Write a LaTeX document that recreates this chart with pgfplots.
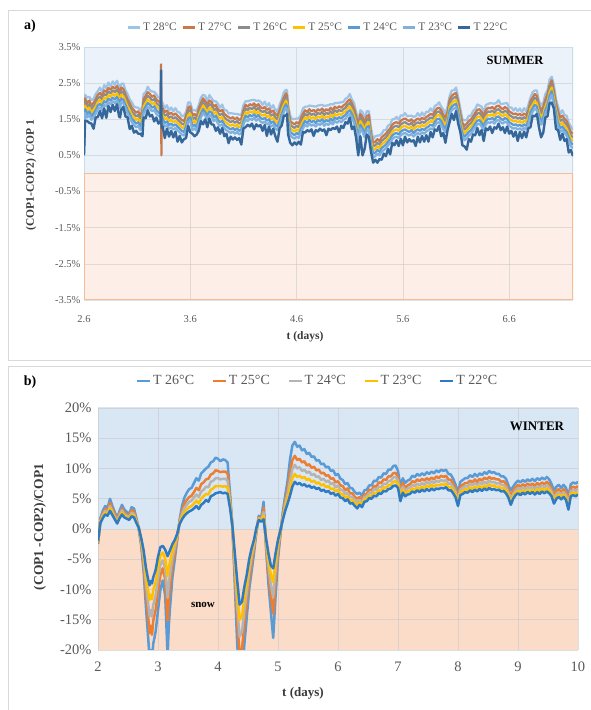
\documentclass[border=0pt]{standalone}
\usepackage{fontspec}
\setmainfont{Liberation Serif}
\usepackage{pgfplots}
\pgfplotsset{compat=1.18}
\usepackage{pgfplotstable}
\definecolor{c28}{HTML}{9DC3E6}
\definecolor{c27}{HTML}{C9784A}
\definecolor{c26}{HTML}{8C8C8C}
\definecolor{c25}{HTML}{FFC000}
\definecolor{c24}{HTML}{5B9BD5}
\definecolor{c23}{HTML}{7FB0DE}
\definecolor{c22}{HTML}{35679A}
\definecolor{w26}{HTML}{5B9BD5}
\definecolor{w25}{HTML}{ED7D31}
\definecolor{w24}{HTML}{B4B4B4}
\definecolor{w23}{HTML}{FFC000}
\definecolor{w22}{HTML}{2E7BC4}
\definecolor{sblue}{HTML}{EBF2FA}
\definecolor{sblueb}{HTML}{C9DCEF}
\definecolor{sor}{HTML}{FDEFE7}
\definecolor{sorb}{HTML}{F5BC98}
\definecolor{wblue}{HTML}{D9E7F5}
\definecolor{wor}{HTML}{FADCC8}
\definecolor{gridc}{HTML}{C8C8C8}
\definecolor{tickgray}{HTML}{595959}
\definecolor{axtitle}{HTML}{3A3A3A}
\definecolor{framec}{HTML}{D9D9D9}
\pgfdeclareverticalshading{sumbg}{100bp}{color(0bp)=(sor); color(50bp)=(sor); color(50bp)=(sblue); color(100bp)=(sblue)}
\pgfdeclareverticalshading{winbg}{100bp}{color(0bp)=(wor); color(50bp)=(wor); color(50bp)=(wblue); color(100bp)=(wblue)}

\pgfplotstableread{
x t28 t27 t26 t25 t24 t23 t22
2.600 1.10 1.00 0.90 0.80 0.70 0.60 0.50
2.61 2.18 2.08 1.98 1.88 1.78 1.68 1.46
2.63 2.10 1.95 1.85 1.75 1.65 1.55 1.45
2.65 2.12 2.02 1.92 1.82 1.72 1.62 1.40
2.67 2.03 1.88 1.78 1.68 1.58 1.48 1.38
2.69 2.06 1.96 1.86 1.76 1.66 1.56 1.24
2.71 2.20 2.05 1.95 1.85 1.75 1.65 1.55
2.73 2.28 2.18 2.08 1.98 1.88 1.78 1.56
2.75 2.38 2.23 2.13 2.03 1.93 1.83 1.73
2.77 2.25 2.15 2.05 1.95 1.85 1.75 1.53
2.79 2.45 2.30 2.20 2.10 2.00 1.90 1.80
2.81 2.36 2.26 2.16 2.06 1.96 1.86 1.54
2.83 2.52 2.37 2.27 2.17 2.07 1.97 1.87
2.85 2.42 2.32 2.22 2.12 2.02 1.92 1.70
2.87 2.55 2.40 2.30 2.20 2.10 2.00 1.90
2.89 2.45 2.35 2.25 2.15 2.05 1.95 1.73
2.91 2.57 2.42 2.32 2.22 2.12 2.02 1.92
2.93 2.40 2.30 2.20 2.10 2.00 1.90 1.58
2.94 2.35 2.20 2.10 2.00 1.90 1.80 1.55
2.95 2.48 2.38 2.28 2.18 2.08 1.98 1.76
2.97 2.49 2.34 2.24 2.14 2.04 1.94 1.84
2.99 2.30 2.20 2.10 2.00 1.90 1.80 1.58
3.01 2.20 2.05 1.95 1.85 1.75 1.65 1.55
3.03 2.05 1.95 1.85 1.75 1.65 1.55 1.23
3.05 1.97 1.82 1.72 1.62 1.52 1.42 1.32
3.07 1.85 1.75 1.65 1.55 1.45 1.35 1.13
3.09 1.83 1.68 1.58 1.48 1.38 1.28 1.18
3.11 1.82 1.72 1.62 1.52 1.42 1.32 1.10
3.13 1.75 1.60 1.50 1.40 1.30 1.20 1.10
3.15 1.85 1.75 1.65 1.55 1.45 1.35 1.03
3.16 2.20 2.05 1.95 1.85 1.75 1.65 1.55
3.18 2.25 2.15 2.05 1.95 1.85 1.75 1.53
3.20 2.40 2.25 2.15 2.05 1.95 1.85 1.75
3.22 2.30 2.20 2.10 2.00 1.90 1.80 1.58
3.24 2.27 2.12 2.02 1.92 1.82 1.72 1.62
3.26 2.26 2.16 2.06 1.96 1.86 1.76 1.44
3.28 2.20 2.05 1.95 1.85 1.75 1.65 1.55
3.30 2.10 2.00 1.90 1.80 1.70 1.60 1.38
3.320 2.10 1.95 1.85 1.75 1.65 1.55 1.45
3.325 2.05 3.02 1.85 1.75 1.65 1.55 2.85
3.328 2.00 0.50 1.80 1.70 1.60 1.50 1.40
3.332 1.98 1.88 1.78 1.68 1.58 1.48 1.26
3.34 1.95 1.80 1.70 1.60 1.50 1.40 1.30
3.36 1.80 1.70 1.60 1.50 1.40 1.30 0.98
3.38 1.89 1.74 1.64 1.54 1.44 1.34 1.24
3.40 1.74 1.64 1.54 1.44 1.34 1.24 1.02
3.42 1.83 1.68 1.58 1.48 1.38 1.28 1.18
3.44 1.72 1.62 1.52 1.42 1.32 1.22 1.00
3.46 1.81 1.66 1.56 1.46 1.36 1.26 1.16
3.48 1.70 1.60 1.50 1.40 1.30 1.20 0.88
3.50 1.69 1.54 1.44 1.34 1.24 1.14 1.04
3.52 1.58 1.48 1.38 1.28 1.18 1.08 0.86
3.54 1.60 1.45 1.35 1.25 1.15 1.05 0.95
3.56 1.70 1.60 1.50 1.40 1.30 1.20 0.98
3.58 1.97 1.82 1.72 1.62 1.52 1.42 1.32
3.60 1.96 1.86 1.76 1.66 1.56 1.46 1.14
3.62 1.75 1.60 1.50 1.40 1.30 1.20 1.10
3.64 1.75 1.65 1.55 1.45 1.35 1.25 1.03
3.66 1.73 1.58 1.48 1.38 1.28 1.18 1.08
3.68 1.90 1.80 1.70 1.60 1.50 1.40 1.18
3.70 2.10 1.95 1.85 1.75 1.65 1.55 1.45
3.72 2.18 2.08 1.98 1.88 1.78 1.68 1.36
3.74 2.15 2.00 1.90 1.80 1.70 1.60 1.50
3.76 2.00 1.90 1.80 1.70 1.60 1.50 1.28
3.78 2.17 2.02 1.92 1.82 1.72 1.62 1.52
3.80 2.08 1.98 1.88 1.78 1.68 1.58 1.36
3.82 2.00 1.85 1.75 1.65 1.55 1.45 1.35
3.84 2.00 1.90 1.80 1.70 1.60 1.50 1.18
3.86 1.93 1.78 1.68 1.58 1.48 1.38 1.28
3.88 1.82 1.72 1.62 1.52 1.42 1.32 1.10
3.90 1.91 1.76 1.66 1.56 1.46 1.36 1.26
3.92 1.75 1.65 1.55 1.45 1.35 1.25 1.03
3.94 1.75 1.60 1.50 1.40 1.30 1.20 1.10
3.96 1.66 1.56 1.46 1.36 1.26 1.16 0.84
3.98 1.67 1.52 1.42 1.32 1.22 1.12 1.02
4.00 1.66 1.56 1.46 1.36 1.26 1.16 0.94
4.02 1.65 1.50 1.40 1.30 1.20 1.10 1.00
4.04 1.65 1.55 1.45 1.35 1.25 1.15 0.93
4.06 1.63 1.48 1.38 1.28 1.18 1.08 0.98
4.08 1.62 1.52 1.42 1.32 1.22 1.12 0.80
4.10 1.90 1.75 1.65 1.55 1.45 1.35 1.25
4.12 2.00 1.90 1.80 1.70 1.60 1.50 1.28
4.14 2.00 1.85 1.75 1.65 1.55 1.45 1.35
4.16 2.02 1.92 1.82 1.72 1.62 1.52 1.30
4.18 2.03 1.88 1.78 1.68 1.58 1.48 1.38
4.20 2.04 1.94 1.84 1.74 1.64 1.54 1.22
4.22 2.01 1.86 1.76 1.66 1.56 1.46 1.36
4.24 2.02 1.92 1.82 1.72 1.62 1.52 1.30
4.26 1.99 1.84 1.74 1.64 1.54 1.44 1.34
4.28 1.90 1.80 1.70 1.60 1.50 1.40 1.18
4.30 1.99 1.84 1.74 1.64 1.54 1.44 1.34
4.32 1.86 1.76 1.66 1.56 1.46 1.36 1.04
4.34 1.95 1.80 1.70 1.60 1.50 1.40 1.30
4.36 1.80 1.70 1.60 1.50 1.40 1.30 1.08
4.38 1.89 1.74 1.64 1.54 1.44 1.34 1.24
4.40 1.75 1.65 1.55 1.45 1.35 1.25 1.03
4.41 1.77 1.62 1.52 1.42 1.32 1.22 0.95
4.42 1.70 1.60 1.50 1.40 1.30 1.20 0.88
4.44 1.90 1.75 1.65 1.55 1.45 1.35 1.25
4.46 2.05 1.95 1.85 1.75 1.65 1.55 1.33
4.48 2.25 2.10 2.00 1.90 1.80 1.70 1.60
4.50 2.32 2.22 2.12 2.02 1.92 1.82 1.60
4.51 2.30 2.15 2.05 1.95 1.85 1.75 1.65
4.52 1.90 1.80 1.70 1.60 1.50 1.40 1.08
4.54 1.60 1.45 1.35 1.25 1.15 1.05 0.85
4.56 1.50 1.40 1.30 1.20 1.10 1.00 0.78
4.58 1.51 1.36 1.26 1.16 1.06 0.96 0.86
4.60 1.52 1.42 1.32 1.22 1.12 1.02 0.80
4.62 1.53 1.38 1.28 1.18 1.08 0.98 0.88
4.64 1.62 1.52 1.42 1.32 1.22 1.12 0.80
4.66 1.80 1.65 1.55 1.45 1.35 1.25 1.15
4.68 1.85 1.75 1.65 1.55 1.45 1.35 1.13
4.70 1.85 1.70 1.60 1.50 1.40 1.30 1.20
4.72 1.88 1.78 1.68 1.58 1.48 1.38 1.16
4.74 1.87 1.72 1.62 1.52 1.42 1.32 1.22
4.76 1.86 1.76 1.66 1.56 1.46 1.36 1.04
4.78 1.85 1.70 1.60 1.50 1.40 1.30 1.20
4.80 1.88 1.78 1.68 1.58 1.48 1.38 1.16
4.82 1.89 1.74 1.64 1.54 1.44 1.34 1.24
4.84 1.90 1.80 1.70 1.60 1.50 1.40 1.18
4.86 1.87 1.72 1.62 1.52 1.42 1.32 1.22
4.88 1.88 1.78 1.68 1.58 1.48 1.38 1.06
4.90 1.89 1.74 1.64 1.54 1.44 1.34 1.24
4.92 1.92 1.82 1.72 1.62 1.52 1.42 1.20
4.94 1.91 1.76 1.66 1.56 1.46 1.36 1.26
4.96 1.95 1.85 1.75 1.65 1.55 1.45 1.23
4.98 1.95 1.80 1.70 1.60 1.50 1.40 1.30
5.00 1.96 1.86 1.76 1.66 1.56 1.46 1.14
5.02 1.97 1.82 1.72 1.62 1.52 1.42 1.32
5.04 1.98 1.88 1.78 1.68 1.58 1.48 1.26
5.06 2.07 1.92 1.82 1.72 1.62 1.52 1.42
5.08 2.10 2.00 1.90 1.80 1.70 1.60 1.38
5.10 2.20 2.05 1.95 1.85 1.75 1.65 1.55
5.12 2.05 1.95 1.85 1.75 1.65 1.55 1.23
5.14 1.95 1.80 1.70 1.60 1.50 1.40 1.30
5.16 1.70 1.60 1.50 1.40 1.30 1.20 0.98
5.18 1.45 1.30 1.20 1.10 1.00 0.90 0.50
5.20 1.75 1.65 1.55 1.45 1.35 1.25 1.03
5.22 1.70 1.55 1.45 1.35 1.25 1.15 0.50
5.24 1.50 1.40 1.30 1.20 1.10 1.00 0.68
5.26 1.73 1.58 1.48 1.38 1.28 1.18 1.08
5.28 1.72 1.62 1.52 1.42 1.32 1.22 1.00
5.30 1.25 1.10 1.00 0.90 0.80 0.70 0.60
5.32 0.95 0.85 0.75 0.65 0.55 0.45 0.30
5.34 1.03 0.88 0.78 0.68 0.58 0.48 0.38
5.36 1.05 0.95 0.85 0.75 0.65 0.55 0.30
5.38 1.05 0.90 0.80 0.70 0.60 0.50 0.40
5.40 1.10 1.00 0.90 0.80 0.70 0.60 0.38
5.42 1.20 1.05 0.95 0.85 0.75 0.65 0.55
5.44 1.20 1.10 1.00 0.90 0.80 0.70 0.48
5.46 1.33 1.18 1.08 0.98 0.88 0.78 0.68
5.48 1.35 1.25 1.15 1.05 0.95 0.85 0.53
5.50 1.50 1.35 1.25 1.15 1.05 0.95 0.85
5.52 1.50 1.40 1.30 1.20 1.10 1.00 0.78
5.54 1.57 1.42 1.32 1.22 1.12 1.02 0.92
5.56 1.48 1.38 1.28 1.18 1.08 0.98 0.76
5.58 1.61 1.46 1.36 1.26 1.16 1.06 0.96
5.60 1.60 1.50 1.40 1.30 1.20 1.10 0.78
5.62 1.67 1.52 1.42 1.32 1.22 1.12 1.02
5.64 1.58 1.48 1.38 1.28 1.18 1.08 0.86
5.66 1.60 1.45 1.35 1.25 1.15 1.05 0.95
5.68 1.60 1.50 1.40 1.30 1.20 1.10 0.88
5.70 1.57 1.42 1.32 1.22 1.12 1.02 0.92
5.72 1.58 1.48 1.38 1.28 1.18 1.08 0.76
5.74 1.67 1.52 1.42 1.32 1.22 1.12 1.02
5.76 1.58 1.48 1.38 1.28 1.18 1.08 0.86
5.78 1.69 1.54 1.44 1.34 1.24 1.14 1.04
5.80 1.60 1.50 1.40 1.30 1.20 1.10 0.88
5.82 1.71 1.56 1.46 1.36 1.26 1.16 1.06
5.84 1.70 1.60 1.50 1.40 1.30 1.20 0.88
5.86 1.80 1.65 1.55 1.45 1.35 1.25 1.15
5.88 1.72 1.62 1.52 1.42 1.32 1.22 1.00
5.90 1.87 1.72 1.62 1.52 1.42 1.32 1.22
5.92 1.90 1.80 1.70 1.60 1.50 1.40 1.18
5.94 1.97 1.82 1.72 1.62 1.52 1.42 1.32
5.96 1.85 1.75 1.65 1.55 1.45 1.35 1.03
5.98 1.77 1.62 1.52 1.42 1.32 1.22 1.12
6.00 1.65 1.55 1.45 1.35 1.25 1.15 0.85
6.02 1.85 1.70 1.60 1.50 1.40 1.30 1.20
6.04 2.15 2.05 1.95 1.85 1.75 1.65 1.43
6.06 2.30 2.15 2.05 1.95 1.85 1.75 1.65
6.08 2.30 2.20 2.10 2.00 1.90 1.80 1.48
6.10 2.38 2.23 2.13 2.03 1.93 1.83 1.73
6.12 2.10 2.00 1.90 1.80 1.70 1.60 1.38
6.14 1.80 1.65 1.55 1.45 1.35 1.25 1.15
6.16 1.50 1.40 1.30 1.20 1.10 1.00 0.78
6.18 1.47 1.32 1.22 1.12 1.02 0.92 0.75
6.20 1.48 1.38 1.28 1.18 1.08 0.98 0.66
6.22 1.60 1.45 1.35 1.25 1.15 1.05 0.95
6.24 1.60 1.50 1.40 1.30 1.20 1.10 0.88
6.26 1.73 1.58 1.48 1.38 1.28 1.18 1.08
6.28 1.78 1.68 1.58 1.48 1.38 1.28 1.06
6.30 1.91 1.76 1.66 1.56 1.46 1.36 1.26
6.32 1.88 1.78 1.68 1.58 1.48 1.38 1.06
6.34 1.85 1.70 1.60 1.50 1.40 1.30 1.20
6.36 1.70 1.60 1.50 1.40 1.30 1.20 0.90
6.38 1.90 1.75 1.65 1.55 1.45 1.35 1.25
6.40 1.92 1.82 1.72 1.62 1.52 1.42 1.20
6.42 1.95 1.80 1.70 1.60 1.50 1.40 1.30
6.44 1.94 1.84 1.74 1.64 1.54 1.44 1.12
6.46 1.93 1.78 1.68 1.58 1.48 1.38 1.28
6.48 1.96 1.86 1.76 1.66 1.56 1.46 1.24
6.50 2.03 1.88 1.78 1.68 1.58 1.48 1.38
6.52 1.92 1.82 1.72 1.62 1.52 1.42 1.20
6.54 1.93 1.78 1.68 1.58 1.48 1.38 1.28
6.56 1.94 1.84 1.74 1.64 1.54 1.44 1.12
6.58 1.95 1.80 1.70 1.60 1.50 1.40 1.30
6.60 1.82 1.72 1.62 1.52 1.42 1.32 1.10
6.62 1.83 1.68 1.58 1.48 1.38 1.28 1.18
6.64 1.74 1.64 1.54 1.44 1.34 1.24 1.02
6.66 1.81 1.66 1.56 1.46 1.36 1.26 1.16
6.68 1.72 1.62 1.52 1.42 1.32 1.22 0.90
6.70 1.80 1.65 1.55 1.45 1.35 1.25 1.15
6.72 1.70 1.60 1.50 1.40 1.30 1.20 0.98
6.74 1.81 1.66 1.56 1.46 1.36 1.26 1.16
6.76 1.72 1.62 1.52 1.42 1.32 1.22 1.00
6.78 1.90 1.75 1.65 1.55 1.45 1.35 1.25
6.80 2.10 2.00 1.90 1.80 1.70 1.60 1.28
6.82 2.25 2.10 2.00 1.90 1.80 1.70 1.60
6.84 2.30 2.20 2.10 2.00 1.90 1.80 1.58
6.86 2.30 2.15 2.05 1.95 1.85 1.75 1.65
6.88 2.00 1.90 1.80 1.70 1.60 1.50 1.28
6.90 1.90 1.75 1.65 1.55 1.45 1.35 1.00
6.92 1.95 1.85 1.75 1.65 1.55 1.45 1.13
6.94 2.20 2.05 1.95 1.85 1.75 1.65 1.55
6.96 2.30 2.20 2.10 2.00 1.90 1.80 1.58
6.98 2.60 2.45 2.35 2.25 2.15 2.05 1.95
7.00 2.68 2.58 2.48 2.38 2.28 2.18 1.96
7.02 2.45 2.30 2.20 2.10 2.00 1.90 1.80
7.04 2.05 1.95 1.85 1.75 1.65 1.55 1.23
7.06 1.85 1.70 1.60 1.50 1.40 1.30 1.20
7.08 1.65 1.55 1.45 1.35 1.25 1.15 0.93
7.10 1.75 1.60 1.50 1.40 1.30 1.20 1.10
7.12 1.62 1.52 1.42 1.32 1.22 1.12 0.90
7.14 1.60 1.45 1.35 1.25 1.15 1.05 0.95
7.16 1.40 1.30 1.20 1.10 1.00 0.90 0.58
7.18 1.30 1.15 1.05 0.95 0.85 0.75 0.65
7.20 1.20 1.10 1.00 0.90 0.80 0.70 0.48
}\summerdata

\pgfplotstableread{
x t26 t25 t24 t23 t22
2.00 -2.5 -2.3 -2.2 -2.1 -2.0
2.04 1.8 1.5 1.3 1.2 1.0
2.08 3.0 2.6 2.3 2.0 1.8
2.12 3.8 3.3 3.0 2.7 2.4
2.16 3.5 3.0 2.7 2.5 2.2
2.20 5.0 4.3 3.8 3.4 3.0
2.24 3.8 3.3 2.9 2.6 2.3
2.28 2.8 2.4 2.1 1.8 1.6
2.32 1.8 1.5 1.3 1.1 0.9
2.36 3.0 2.6 2.3 2.0 1.8
2.40 4.0 3.4 3.1 2.7 2.4
2.44 3.2 2.7 2.4 2.2 1.9
2.48 2.8 2.4 2.2 1.9 1.7
2.52 2.5 2.2 1.9 1.7 1.5
2.56 3.6 3.1 2.7 2.4 2.1
2.60 3.4 2.9 2.5 2.2 1.9
2.64 1.8 1.5 1.3 1.2 1.0
2.68 0.0 0.1 0.1 0.2 0.2
2.72 -2.8 -2.3 -2.0 -1.8 -1.5
2.76 -7.0 -5.8 -5.0 -4.2 -3.5
2.80 -13.0 -10.7 -9.2 -7.8 -6.5
2.84 -18.5 -15.0 -12.7 -10.5 -8.5
2.86 -21.5 -17.2 -14.4 -11.7 -9.3
2.88 -20.0 -16.0 -13.4 -10.9 -8.6
2.90 -22.0 -17.5 -14.5 -11.6 -9.0
2.92 -19.0 -15.2 -12.6 -10.2 -8.0
2.96 -17.0 -13.4 -11.1 -8.8 -6.8
3.00 -13.5 -10.4 -8.3 -6.4 -4.6
3.04 -10.0 -7.6 -5.9 -4.4 -3.0
3.08 -8.5 -6.5 -5.2 -3.9 -2.8
3.12 -11.0 -8.3 -6.6 -4.9 -3.4
3.16 -21.0 -15.2 -11.4 -7.8 -4.5
3.18 -16.0 -11.8 -9.0 -6.4 -4.0
3.20 -13.0 -9.7 -7.5 -5.4 -3.5
3.24 -8.0 -6.1 -4.8 -3.6 -2.5
3.28 -5.0 -3.9 -3.1 -2.4 -1.8
3.32 -1.8 -1.5 -1.2 -1.0 -0.8
3.36 1.5 1.3 1.1 0.9 0.8
3.40 3.8 3.0 2.5 2.0 1.6
3.44 5.2 4.2 3.5 2.8 2.2
3.48 6.0 4.8 4.0 3.3 2.6
3.52 6.6 5.3 4.5 3.6 2.9
3.56 6.8 5.5 4.7 3.8 3.1
3.60 7.6 6.1 5.2 4.2 3.4
3.64 8.4 6.8 5.7 4.7 3.8
3.68 8.0 6.4 5.3 4.2 3.3
3.72 9.2 7.4 6.2 5.0 4.0
3.76 9.6 7.7 6.5 5.4 4.3
3.80 10.0 8.2 7.0 5.8 4.8
3.84 10.3 8.3 6.9 5.7 4.5
3.88 11.0 9.0 7.8 6.5 5.4
3.92 11.2 9.2 8.0 6.7 5.6
3.96 11.8 9.7 8.4 7.1 5.9
4.00 11.6 9.6 8.4 7.1 6.0
4.04 11.2 9.4 8.2 7.1 6.1
4.08 11.5 9.5 8.3 7.0 5.9
4.12 11.4 9.5 8.3 7.1 6.0
4.16 11.0 9.2 8.0 6.8 5.8
4.20 6.0 5.1 4.6 4.0 3.5
4.24 0.5 0.5 0.5 0.5 0.5
4.28 -9.0 -7.3 -6.1 -5.0 -4.0
4.32 -19.0 -15.3 -12.9 -10.6 -8.5
4.36 -25.0 -20.6 -17.8 -15.0 -12.5
4.40 -24.0 -19.8 -17.0 -14.4 -12.0
4.44 -19.0 -15.7 -13.5 -11.4 -9.5
4.48 -14.5 -12.1 -10.4 -8.9 -7.5
4.52 -10.0 -8.3 -7.1 -6.0 -5.0
4.56 -7.0 -5.7 -4.8 -4.0 -3.2
4.60 -4.0 -3.2 -2.7 -2.2 -1.8
4.64 -0.5 -0.3 -0.1 0.1 0.2
4.68 2.2 2.0 1.8 1.6 1.5
4.72 1.8 1.6 1.5 1.3 1.2
4.76 4.5 3.5 2.8 2.2 1.6
4.80 -3.0 -2.5 -2.1 -1.8 -1.5
4.84 -9.0 -7.3 -6.1 -5.0 -4.0
4.88 -13.5 -10.9 -9.2 -7.5 -6.0
4.92 -18.0 -14.0 -11.3 -8.8 -6.5
4.96 -11.0 -8.6 -6.9 -5.4 -4.0
5.00 -5.0 -3.9 -3.1 -2.4 -1.8
5.04 -1.0 -0.7 -0.5 -0.4 -0.2
5.08 2.8 2.3 2.0 1.8 1.5
5.12 5.5 4.6 4.1 3.5 3.0
5.16 8.0 6.7 5.8 5.0 4.2
5.20 11.5 9.4 8.0 6.7 5.5
5.24 13.8 11.4 9.9 8.4 7.0
5.28 14.4 12.1 10.6 9.1 7.8
5.32 13.6 11.4 10.0 8.6 7.4
5.36 13.8 11.6 10.2 8.8 7.6
5.40 13.0 11.0 9.6 8.4 7.2
5.44 13.2 11.2 9.8 8.6 7.4
5.48 12.4 10.5 9.3 8.1 7.0
5.52 12.6 10.7 9.5 8.3 7.2
5.56 11.9 10.1 8.9 7.8 6.8
5.60 12.0 10.3 9.1 8.0 7.0
5.64 11.3 9.7 8.6 7.5 6.6
5.68 11.4 9.8 8.7 7.7 6.8
5.72 10.7 9.2 8.1 7.2 6.3
5.76 10.8 9.3 8.3 7.4 6.5
5.80 10.2 8.8 7.8 6.9 6.1
5.84 10.3 8.9 8.0 7.1 6.3
5.88 9.6 8.3 7.4 6.6 5.8
5.92 9.7 8.4 7.6 6.7 6.0
5.96 8.9 7.7 6.9 6.2 5.5
6.00 9.1 7.9 7.2 6.5 5.8
6.04 8.3 7.2 6.5 5.8 5.2
6.08 8.1 7.1 6.4 5.7 5.1
6.12 7.4 6.4 5.8 5.2 4.6
6.16 7.6 6.7 6.0 5.4 4.9
6.20 6.8 5.9 5.3 4.7 4.2
6.24 6.7 5.9 5.3 4.8 4.3
6.28 6.1 5.3 4.8 4.3 3.8
6.32 5.8 5.0 4.4 3.9 3.4
6.36 6.0 5.3 4.8 4.4 4.0
6.40 5.5 4.8 4.4 4.0 3.6
6.44 6.4 5.7 5.3 4.9 4.5
6.48 6.5 5.8 5.4 5.0 4.6
6.52 7.2 6.5 6.0 5.5 5.1
6.56 7.2 6.4 5.9 5.4 5.0
6.60 8.0 7.1 6.6 6.0 5.5
6.64 7.9 7.0 6.5 5.9 5.4
6.68 8.6 7.7 7.0 6.4 5.9
6.72 8.5 7.6 6.9 6.3 5.8
6.76 9.2 8.2 7.5 6.9 6.3
6.80 9.1 8.1 7.4 6.8 6.2
6.84 9.8 8.7 7.9 7.2 6.6
6.88 9.8 8.7 8.0 7.3 6.7
6.92 10.4 9.2 8.5 7.8 7.1
6.96 10.5 9.3 8.6 7.9 7.2
7.00 9.6 8.6 8.0 7.4 6.8
7.04 7.0 6.2 5.6 5.1 4.6
7.08 8.4 7.6 7.0 6.5 6.0
7.12 7.6 6.8 6.3 5.8 5.4
7.16 8.0 7.2 6.7 6.2 5.7
7.20 8.2 7.4 6.8 6.3 5.8
7.24 8.8 7.9 7.3 6.7 6.2
7.28 8.6 7.7 7.1 6.5 6.0
7.32 9.1 8.2 7.5 6.9 6.4
7.36 8.8 7.9 7.2 6.6 6.1
7.40 9.2 8.3 7.6 7.0 6.5
7.44 8.9 8.0 7.3 6.7 6.2
7.48 9.4 8.4 7.8 7.2 6.6
7.52 9.1 8.1 7.5 6.9 6.3
7.56 9.5 8.5 7.9 7.3 6.7
7.60 9.2 8.2 7.6 7.0 6.4
7.64 9.7 8.7 8.0 7.3 6.7
7.68 9.4 8.4 7.8 7.2 6.6
7.72 9.8 8.8 8.1 7.4 6.8
7.76 9.6 8.6 7.9 7.3 6.7
7.80 9.8 8.8 8.1 7.5 6.9
7.84 9.1 8.2 7.5 6.9 6.4
7.88 9.0 8.1 7.5 6.9 6.4
7.92 8.3 7.5 6.9 6.4 5.9
7.96 7.3 6.6 6.1 5.6 5.2
8.00 6.0 5.2 4.7 4.2 3.8
8.04 7.8 7.0 6.5 6.0 5.6
8.08 8.1 7.3 6.8 6.3 5.8
8.12 8.4 7.6 7.1 6.6 6.1
8.16 8.4 7.6 7.0 6.5 6.0
8.20 8.9 8.0 7.5 6.9 6.4
8.24 8.6 7.7 7.2 6.6 6.1
8.28 9.1 8.2 7.6 7.0 6.5
8.32 8.7 7.8 7.3 6.7 6.2
8.36 9.2 8.3 7.7 7.1 6.6
8.40 8.9 8.0 7.4 6.8 6.3
8.44 9.4 8.5 7.8 7.2 6.7
8.48 9.1 8.2 7.5 6.9 6.4
8.52 9.6 8.6 8.0 7.4 6.8
8.56 9.3 8.3 7.7 7.1 6.5
8.60 9.4 8.4 7.8 7.2 6.6
8.64 9.1 8.2 7.5 6.9 6.4
8.68 9.1 8.2 7.6 7.0 6.5
8.72 8.7 7.8 7.3 6.7 6.2
8.76 8.7 7.9 7.3 6.8 6.3
8.80 8.3 7.5 6.9 6.4 5.9
8.84 7.2 6.5 6.0 5.6 5.2
8.88 6.4 5.6 5.0 4.5 4.0
8.92 7.0 6.3 5.8 5.4 5.0
8.96 7.6 6.9 6.4 6.0 5.6
9.00 8.0 7.3 6.8 6.3 5.9
9.04 7.7 7.0 6.5 6.0 5.6
9.08 8.1 7.4 6.9 6.4 6.0
9.12 7.8 7.1 6.6 6.1 5.7
9.16 8.2 7.5 7.0 6.5 6.1
9.20 7.9 7.2 6.7 6.2 5.8
9.24 8.3 7.5 7.0 6.5 6.1
9.28 7.9 7.1 6.6 6.1 5.7
9.32 8.4 7.6 7.1 6.6 6.1
9.36 8.1 7.3 6.8 6.3 5.8
9.40 8.5 7.7 7.2 6.7 6.2
9.44 8.2 7.4 6.9 6.4 5.9
9.48 8.6 7.8 7.2 6.7 6.2
9.52 8.2 7.4 6.9 6.4 5.9
9.56 7.4 6.7 6.2 5.8 5.4
9.60 6.4 5.6 5.1 4.6 4.2
9.64 7.0 6.3 5.8 5.4 5.0
9.68 7.3 6.6 6.1 5.7 5.3
9.72 6.8 6.1 5.7 5.3 4.9
9.76 7.3 6.6 6.1 5.7 5.3
9.80 6.8 6.1 5.6 5.2 4.8
9.84 5.4 4.6 4.1 3.6 3.2
9.88 7.4 6.7 6.2 5.8 5.4
9.92 7.7 7.0 6.5 6.0 5.6
9.96 7.5 6.8 6.3 5.8 5.4
10.00 7.8 7.1 6.6 6.1 5.7
}\winterdata

\begin{document}
\begin{tikzpicture}
\path[use as bounding box] (0pt,0pt) rectangle (591pt,710pt);
\draw[framec, line width=0.8pt] (600pt,700pt) -- (8.5pt,700pt) -- (8.5pt,350pt) -- (600pt,350pt);
\draw[framec, line width=0.8pt] (600pt,344pt) -- (8.5pt,344pt) -- (8.5pt,-10pt);

% ---------------- SUMMER ----------------
\begin{axis}[
  at={(84pt,410pt)}, anchor=south west,
  scale only axis, width=489pt, height=253pt,
  xmin=2.6, xmax=7.2, ymin=-3.5, ymax=3.5,
  axis background/.style={shading=sumbg},
  xtick={2.6,3.6,4.6,5.6,6.6}, xticklabels={2.6,3.6,4.6,5.6,6.6},
  ytick={-3.5,-2.5,-1.5,-0.5,0.5,1.5,2.5,3.5},
  yticklabels={-3.5\%,-2.5\%,-1.5\%,-0.5\%,0.5\%,1.5\%,2.5\%,3.5\%},
  xmajorgrids, ymajorgrids,
  major grid style={draw=gridc, draw opacity=0.55, line width=0.7pt},
  axis line style={draw=none}, major tick length=0pt,
  tick label style={font=\fontsize{10.5}{12}\selectfont, text=tickgray},
  xticklabel style={yshift=-12pt},
  yticklabel style={xshift=0pt},
  no markers,
  every axis plot/.append style={line join=round},
  legend style={at={(0.4785,1.077)}, anchor=center, draw=none, fill=none,
    font=\fontsize{11.5}{13}\selectfont, text=tickgray, legend columns=-1,
    /tikz/every odd column/.append style={column sep=0pt},
    /tikz/every even column/.append style={column sep=3pt}},
  legend image code/.code={\draw[#1, line width=2.4pt] (0pt,0pt) -- (12pt,0pt);},
]
\addplot[forget plot, sblueb, line width=1.6pt] coordinates {(2.6,0) (2.6,3.5) (7.2,3.5) (7.2,0)};
\addplot[forget plot, sorb, line width=1.8pt] coordinates {(2.6,0) (2.6,-3.5) (7.2,-3.5) (7.2,0) (2.6,0)};
\addplot[color=c28, line width=2.2pt] table[x=x, y=t28]{\summerdata};
\addplot[color=c27, line width=2.2pt] table[x=x, y=t27]{\summerdata};
\addplot[color=c26, line width=2.2pt] table[x=x, y=t26]{\summerdata};
\addplot[color=c25, line width=2.2pt] table[x=x, y=t25]{\summerdata};
\addplot[color=c24, line width=2.2pt] table[x=x, y=t24]{\summerdata};
\addplot[color=c23, line width=2.2pt] table[x=x, y=t23]{\summerdata};
\addplot[color=c22, line width=2.4pt] table[x=x, y=t22]{\summerdata};
\legend{T 28°C, T 27°C, T 26°C, T 25°C, T 24°C, T 23°C, T 22°C}
\end{axis}

% ---------------- WINTER ----------------
\begin{axis}[
  at={(98pt,60pt)}, anchor=south west,
  scale only axis, width=480pt, height=242pt,
  xmin=2, xmax=10, ymin=-20, ymax=20,
  axis background/.style={shading=winbg},
  xtick={2,3,4,5,6,7,8,9,10}, xticklabels={2,3,4,5,6,7,8,9,10},
  ytick={-20,-15,-10,-5,0,5,10,15,20},
  yticklabels={-20\%,-15\%,-10\%,-5\%,0\%,5\%,10\%,15\%,20\%},
  xmajorgrids, ymajorgrids,
  major grid style={draw=gridc, draw opacity=0.6, line width=0.7pt},
  axis line style={draw=none}, major tick length=0pt,
  tick label style={font=\fontsize{14.5}{16}\selectfont, text=tickgray},
  xticklabel style={yshift=-8pt},
  yticklabel style={xshift=-3pt},
  no markers,
  every axis plot/.append style={line join=round},
  legend style={at={(0.458,1.112)}, anchor=center, draw=none, fill=none,
    font=\fontsize{14}{16}\selectfont, text=tickgray, legend columns=-1,
    /tikz/every odd column/.append style={column sep=0pt},
    /tikz/every even column/.append style={column sep=16pt}},
  legend image code/.code={\draw[#1, line width=1.8pt] (0pt,0pt) -- (13pt,0pt);},
]
\addplot[color=w26, line width=2.5pt] table[x=x, y=t26]{\winterdata};
\addplot[color=w25, line width=2.5pt] table[x=x, y=t25]{\winterdata};
\addplot[color=w24, line width=2.5pt] table[x=x, y=t24]{\winterdata};
\addplot[color=w23, line width=2.5pt] table[x=x, y=t23]{\winterdata};
\addplot[color=w22, line width=2.5pt] table[x=x, y=t22]{\winterdata};
\legend{T 26°C, T 25°C, T 24°C, T 23°C, T 22°C}
\node[font=\bfseries\fontsize{11}{13}\selectfont] at (axis cs:3.75,-12.6) {snow};
\end{axis}

\node[font=\bfseries\fontsize{14}{16}\selectfont] at (30pt,684pt) {a)};
\node[font=\bfseries\fontsize{14}{16}\selectfont] at (30pt,328pt) {b)};
\node[font=\bfseries\fontsize{12.5}{14}\selectfont] at (515pt,650pt) {SUMMER};
\node[font=\bfseries\fontsize{13}{15}\selectfont] at (537pt,284pt) {WINTER};
\node[rotate=90, font=\bfseries\fontsize{11.5}{13}\selectfont, text=axtitle] at (31pt,535pt) {(COP1-COP2) /COP 1};
\node[rotate=90, font=\bfseries\fontsize{13.5}{15}\selectfont, text=axtitle] at (40pt,183pt) {(COP1 -COP2)/COP1};
\node[font=\bfseries\fontsize{11.5}{13}\selectfont, text=axtitle] at (305pt,373pt) {t (days)};
\node[font=\bfseries\fontsize{13}{15}\selectfont, text=axtitle] at (303pt,17pt) {t (days)};
\end{tikzpicture}
\end{document}
